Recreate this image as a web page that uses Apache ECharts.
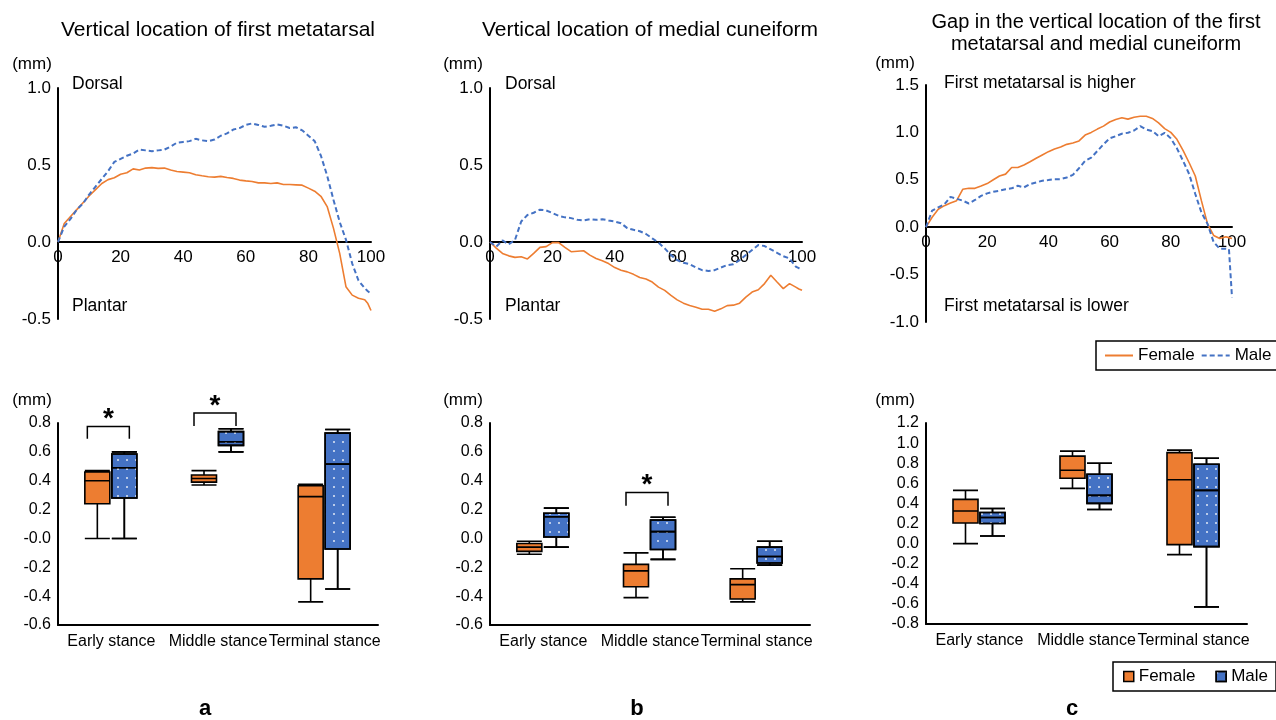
<!DOCTYPE html>
<html>
<head>
<meta charset="utf-8">
<script src="https://cdn.jsdelivr.net/npm/echarts@6.0.0/dist/echarts.min.js"></script>
<style>
  html, body { margin: 0; padding: 0; background: #fff; }
  #main { width: 1276px; height: 720px; }
</style>
</head>
<body>
<div id="main"></div>
<script>
// % of stance phase
var pct = [0, 2, 4, 6, 8, 10, 12, 14, 16, 18, 20, 22, 24, 26, 28, 30, 32, 34, 36, 38, 40,
  42, 44, 46, 48, 50, 52, 54, 56, 58, 60, 62, 64, 66, 68, 70, 72, 74, 76, 78, 80,
  82, 84, 86, 88, 90, 92, 94, 96, 98, 99, 100];

// (a) first metatarsal
var femaleA = [0, 0.12, 0.166, 0.21, 0.255, 0.30, 0.34, 0.38, 0.405, 0.417, 0.44, 0.45, 0.475, 0.467, 0.48, 0.483,
  0.478, 0.48, 0.467, 0.458, 0.454, 0.45, 0.437, 0.43, 0.424, 0.421, 0.426, 0.419, 0.413, 0.402, 0.397,
  0.393, 0.384, 0.384, 0.38, 0.384, 0.373, 0.373, 0.371, 0.369, 0.35, 0.33, 0.297, 0.23, 0.09, -0.074,
  -0.29, -0.345, -0.365, -0.375, -0.40, -0.445];
var maleA = [0, 0.10, 0.15, 0.21, 0.25, 0.31, 0.36, 0.41, 0.46, 0.52, 0.54, 0.56, 0.575, 0.60, 0.595, 0.59,
  0.595, 0.60, 0.62, 0.645, 0.65, 0.655, 0.67, 0.66, 0.655, 0.665, 0.69, 0.705, 0.73, 0.74, 0.76,
  0.77, 0.76, 0.748, 0.755, 0.764, 0.755, 0.74, 0.745, 0.725, 0.69, 0.655, 0.56, 0.43, 0.275, 0.13,
  0.015, -0.14, -0.25, -0.30, -0.32, -0.335];

// (b) medial cuneiform
var femaleB = [0, -0.04, -0.074, -0.09, -0.10, -0.096, -0.11, -0.074, -0.035, -0.03, -0.004, -0.004, -0.035, -0.063,
  -0.06, -0.057, -0.085, -0.107, -0.122, -0.14, -0.166, -0.183, -0.194, -0.21, -0.231, -0.24, -0.26,
  -0.293, -0.314, -0.347, -0.376, -0.397, -0.413, -0.424, -0.437, -0.437, -0.45, -0.434, -0.413, -0.41,
  -0.397, -0.358, -0.325, -0.31, -0.27, -0.216, -0.26, -0.303, -0.27, -0.293, -0.305, -0.314];
var maleB = [0, -0.03, 0.01, -0.015, 0.013, 0.133, 0.175, 0.19, 0.21, 0.205, 0.188, 0.17, 0.16, 0.155, 0.144,
  0.14, 0.148, 0.144, 0.148, 0.14, 0.133, 0.122, 0.09, 0.079, 0.07, 0.052, 0.024, -0.004, -0.041,
  -0.085, -0.118, -0.135, -0.144, -0.166, -0.183, -0.188, -0.183, -0.166, -0.15, -0.144, -0.118,
  -0.085, -0.052, -0.02, -0.026, -0.048, -0.07, -0.092, -0.107, -0.16, -0.17, -0.18];

// (c) gap
var femaleC = [0, 0.105, 0.19, 0.227, 0.255, 0.28, 0.40, 0.41, 0.41, 0.434, 0.46, 0.50, 0.54, 0.56, 0.63, 0.63,
  0.657, 0.69, 0.727, 0.762, 0.797, 0.825, 0.846, 0.874, 0.888, 0.91, 0.972, 1.0, 1.035, 1.066, 1.11,
  1.136, 1.154, 1.14, 1.16, 1.17, 1.17, 1.147, 1.10, 1.04, 1.0, 0.927, 0.81, 0.68, 0.54, 0.28, 0.035,
  -0.087, -0.12, -0.10, -0.11, -0.12];
var maleC = [0, 0.175, 0.21, 0.24, 0.32, 0.30, 0.28, 0.25, 0.287, 0.33, 0.357, 0.374, 0.385, 0.40, 0.41, 0.437,
  0.42, 0.455, 0.472, 0.49, 0.497, 0.507, 0.507, 0.524, 0.552, 0.622, 0.70, 0.734, 0.804, 0.874, 0.937,
  0.96, 0.986, 0.996, 1.02, 1.066, 1.03, 1.014, 0.96, 0.996, 0.937, 0.832, 0.70, 0.56, 0.35, 0.157,
  0.035, -0.157, -0.227, -0.227, -0.23, -0.74];

// boxplots: [min, Q1, median, Q3, max]
var stages = ['Early stance', 'Middle stance', 'Terminal stance'];
var boxFemaleA = [[0.0, 0.24, 0.40, 0.46, 0.47], [0.37, 0.39, 0.415, 0.44, 0.47], [-0.44, -0.28, 0.29, 0.365, 0.375]];
var boxMaleA = [[0.0, 0.28, 0.49, 0.585, 0.60], [0.60, 0.645, 0.67, 0.74, 0.76], [-0.35, -0.073, 0.515, 0.73, 0.755]];
var boxFemaleB = [[-0.11, -0.09, -0.06, -0.035, -0.02], [-0.41, -0.335, -0.225, -0.18, -0.10], [-0.44, -0.42, -0.32, -0.28, -0.21]];
var boxMaleB = [[-0.06, 0.01, 0.15, 0.175, 0.21], [-0.145, -0.077, 0.047, 0.128, 0.147], [-0.185, -0.17, -0.125, -0.06, -0.02]];
var boxFemaleC = [[0.0, 0.205, 0.325, 0.44, 0.53], [0.55, 0.65, 0.73, 0.87, 0.92], [-0.11, -0.01, 0.635, 0.905, 0.93]];
var boxMaleC = [[0.075, 0.2, 0.26, 0.31, 0.35], [0.34, 0.40, 0.48, 0.69, 0.80], [-0.63, -0.03, 0.53, 0.79, 0.85]];

// significance brackets: [stage index, leg bottom, bracket top]
var sigA = [[0, 0.69, 0.775], [1, 0.78, 0.87]];
var sigB = [[1, 0.226, 0.318]];

// tick labels
var lineTicksAB = [-0.5, 0, 0.5, 1.0];
var lineLabelsAB = ['-0.5', '0.0', '0.5', '1.0'];
var lineTicksC = [-1.0, -0.5, 0, 0.5, 1.0, 1.5];
var lineLabelsC = ['-1.0', '-0.5', '0.0', '0.5', '1.0', '1.5'];
var boxTicksAB = [-0.6, -0.4, -0.2, 0, 0.2, 0.4, 0.6, 0.8];
var boxLabelsA = ['-0.6', '-0.4', '-0.2', '-0.0', '0.2', '0.4', '0.6', '0.8'];
var boxLabelsB = ['-0.6', '-0.4', '-0.2', '0.0', '0.2', '0.4', '0.6', '0.8'];
var boxTicksC = [-0.8, -0.6, -0.4, -0.2, 0, 0.2, 0.4, 0.6, 0.8, 1.0, 1.2];
var boxLabelsC = ['-0.8', '-0.6', '-0.4', '-0.2', '0.0', '0.2', '0.4', '0.6', '0.8', '1.0', '1.2'];

var ORANGE = '#ED7D31';
var BLUE = '#4472C4';
var FONT = '"Liberation Sans", Arial, sans-serif';
var BOX_SHIFT_F = -14;
var BOX_SHIFT_M = 13;

function tickFmt(ticks, labels) {
  return function (v) {
    for (var i = 0; i < ticks.length; i++) {
      if (Math.abs(ticks[i] - v) < 1e-6) return labels[i];
    }
    return '';
  };
}
function pairs(vals) {
  return pct.map(function (x, i) { return [x, vals[i]]; });
}

var lineGrids = [
  { left: 58, top: 88, width: 313, height: 231 },
  { left: 490, top: 88, width: 312, height: 231 },
  { left: 926, top: 85, width: 306, height: 237 }
];
var lineY = [
  { min: -0.5, max: 1.0, interval: 0.5, ticks: lineTicksAB, labels: lineLabelsAB },
  { min: -0.5, max: 1.0, interval: 0.5, ticks: lineTicksAB, labels: lineLabelsAB },
  { min: -1.0, max: 1.5, interval: 0.5, ticks: lineTicksC, labels: lineLabelsC }
];
var boxGrids = [
  { left: 58, top: 423, width: 320, height: 202 },
  { left: 490, top: 423, width: 320, height: 202 },
  { left: 926, top: 423, width: 321, height: 201 }
];
var boxY = [
  { min: -0.6, max: 0.8, interval: 0.2, ticks: boxTicksAB, labels: boxLabelsA },
  { min: -0.6, max: 0.8, interval: 0.2, ticks: boxTicksAB, labels: boxLabelsB },
  { min: -0.8, max: 1.2, interval: 0.2, ticks: boxTicksC, labels: boxLabelsC }
];

var grid = [], xAxis = [], yAxis = [], series = [];

// top line charts: grids 0..2; x axis sits on the zero line
lineGrids.forEach(function (g, i) {
  grid.push(g);
  var y = lineY[i];
  var zeroUp = g.height * (0 - y.min) / (y.max - y.min);
  xAxis.push({
    gridIndex: i, type: 'value', min: 0, max: 100, interval: 20,
    offset: -zeroUp,
    axisLine: { show: true, onZero: false, lineStyle: { color: '#000', width: 2 } },
    axisTick: { show: false }, splitLine: { show: false },
    axisLabel: { color: '#000', fontSize: 17, margin: 7, fontFamily: FONT }
  });
  yAxis.push({
    gridIndex: i, type: 'value', min: y.min, max: y.max, interval: y.interval,
    axisLine: { show: true, onZero: false, lineStyle: { color: '#000', width: 2 } },
    axisTick: { show: false }, splitLine: { show: false },
    axisLabel: { color: '#000', fontSize: 17, margin: 7, fontFamily: FONT, formatter: tickFmt(y.ticks, y.labels) }
  });
});

// bottom visible axes: grids 3..5
boxGrids.forEach(function (g, i) {
  grid.push(g);
  xAxis.push({
    gridIndex: 3 + i, type: 'category', data: stages,
    axisLine: { show: true, onZero: false, lineStyle: { color: '#000', width: 2 } },
    axisTick: { show: false },
    axisLabel: { color: '#000', fontSize: 16, margin: 9, interval: 0, fontFamily: FONT }
  });
  yAxis.push({
    gridIndex: 3 + i, type: 'value', min: boxY[i].min, max: boxY[i].max, interval: boxY[i].interval,
    axisLine: { show: true, onZero: false, lineStyle: { color: '#000', width: 2 } },
    axisTick: { show: false }, splitLine: { show: false },
    axisLabel: { color: '#000', fontSize: 16, margin: 7, fontFamily: FONT, formatter: tickFmt(boxY[i].ticks, boxY[i].labels) }
  });
});

// hidden shifted grids for female (6..8) and male (9..11) boxes
[BOX_SHIFT_F, BOX_SHIFT_M].forEach(function (shift) {
  boxGrids.forEach(function (g, i) {
    var gi = grid.length;
    grid.push({ left: g.left + shift, top: g.top, width: g.width, height: g.height });
    xAxis.push({ gridIndex: gi, type: 'category', data: stages, show: false });
    yAxis.push({ gridIndex: gi, type: 'value', min: boxY[i].min, max: boxY[i].max, show: false });
  });
});

// line series
[[femaleA, maleA], [femaleB, maleB], [femaleC, maleC]].forEach(function (pair, i) {
  series.push({
    name: 'Female', type: 'line', xAxisIndex: i, yAxisIndex: i, data: pairs(pair[0]),
    symbol: 'none', itemStyle: { color: ORANGE },
    lineStyle: { color: ORANGE, width: 1.6 }
  });
  series.push({
    name: 'Male', type: 'line', xAxisIndex: i, yAxisIndex: i, data: pairs(pair[1]),
    symbol: 'none', itemStyle: { color: BLUE },
    lineStyle: { color: BLUE, width: 2, type: [5, 3] }
  });
});

var dots = {
  symbol: 'circle', symbolSize: 1, color: 'rgba(255,255,255,0.85)',
  dashArrayX: [2, 7], dashArrayY: [2, 7], rotation: 0
};

// boxplot series
[[boxFemaleA, boxMaleA], [boxFemaleB, boxMaleB], [boxFemaleC, boxMaleC]].forEach(function (pair, i) {
  series.push({
    name: 'Female box', type: 'boxplot', xAxisIndex: 6 + i, yAxisIndex: 6 + i, data: pair[0],
    boxWidth: [25, 25],
    itemStyle: { color: ORANGE, borderColor: '#000', borderWidth: 1.6 }
  });
  series.push({
    name: 'Male box', type: 'boxplot', xAxisIndex: 9 + i, yAxisIndex: 9 + i, data: pair[1],
    boxWidth: [25, 25],
    itemStyle: { color: BLUE, borderColor: '#000', borderWidth: 1.6, decal: dots }
  });
});

function renderBracket(params, api) {
  var top = api.coord([api.value(0), api.value(2)]);
  var leg = api.coord([api.value(0), api.value(1)]);
  var x0 = top[0] - 24, x1 = top[0] + 18;
  return {
    type: 'group',
    children: [
      {
        type: 'polyline',
        shape: { points: [[x0, leg[1]], [x0, top[1]], [x1, top[1]], [x1, leg[1]]] },
        style: { stroke: '#000', lineWidth: 1.5, fill: null }
      },
      {
        type: 'text', x: (x0 + x1) / 2, y: top[1] - 7,
        style: { text: '*', font: 'bold 28px ' + FONT, textAlign: 'center', textVerticalAlign: 'middle', fill: '#000' }
      }
    ]
  };
}
series.push({ type: 'custom', xAxisIndex: 3, yAxisIndex: 3, data: sigA, renderItem: renderBracket, clip: false, silent: true });
series.push({ type: 'custom', xAxisIndex: 4, yAxisIndex: 4, data: sigB, renderItem: renderBracket, clip: false, silent: true });

function txt(text, x, y, size, opts) {
  opts = opts || {};
  return {
    type: 'text', x: x, y: y, silent: true,
    style: {
      text: text, fill: '#000',
      font: (opts.bold ? 'bold ' : '') + size + 'px ' + FONT,
      textAlign: opts.align || 'left', textVerticalAlign: 'middle',
      lineHeight: opts.lineHeight
    }
  };
}

var graphic = [
  txt('Vertical location of first metatarsal', 218, 30, 21, { align: 'center' }),
  txt('Vertical location of medial cuneiform', 650, 30, 21, { align: 'center' }),
  txt('Gap in the vertical location of the first\nmetatarsal and medial cuneiform', 1096, 33, 20, { align: 'center', lineHeight: 22 }),
  txt('(mm)', 32, 64, 17, { align: 'center' }),
  txt('(mm)', 463, 64, 17, { align: 'center' }),
  txt('(mm)', 895, 63, 17, { align: 'center' }),
  txt('(mm)', 32, 400, 17, { align: 'center' }),
  txt('(mm)', 463, 400, 17, { align: 'center' }),
  txt('(mm)', 895, 400, 17, { align: 'center' }),
  txt('Dorsal', 72, 84, 17.5),
  txt('Plantar', 72, 306, 17.5),
  txt('Dorsal', 505, 84, 17.5),
  txt('Plantar', 505, 306, 17.5),
  txt('First metatarsal is higher', 944, 83, 17.5),
  txt('First metatarsal is lower', 944, 306, 17.5),
  txt('a', 205, 709, 22, { align: 'center', bold: true }),
  txt('b', 637, 709, 22, { align: 'center', bold: true }),
  txt('c', 1072, 709, 22, { align: 'center', bold: true })
];

var option = {
  animation: false,
  backgroundColor: '#fff',
  textStyle: { fontFamily: FONT, color: '#000' },
  grid: grid,
  xAxis: xAxis,
  yAxis: yAxis,
  legend: [
    {
      data: ['Female', 'Male'], left: 1096, top: 341, width: 260,
      orient: 'horizontal', itemWidth: 28, itemHeight: 12, itemGap: 6,
      padding: [6, 8, 6, 8], borderColor: '#000', borderWidth: 1.5,
      itemStyle: { opacity: 0, color: 'rgba(0,0,0,0)', borderWidth: 0 },
      textStyle: { fontSize: 17, color: '#000', fontFamily: FONT }
    },
    {
      data: [
        { name: 'Female box', itemStyle: { color: ORANGE, borderColor: '#000', borderWidth: 1.5 } },
        { name: 'Male box', itemStyle: { color: BLUE, borderColor: '#000', borderWidth: 1.5 } }
      ],
      left: 1113, top: 662, width: 260,
      orient: 'horizontal', icon: 'rect', itemWidth: 10, itemHeight: 10, itemGap: 20,
      padding: [6, 8, 6, 10], borderColor: '#000', borderWidth: 1.5,
      formatter: function (n) { return n.replace(' box', ''); },
      textStyle: { fontSize: 17, color: '#000', fontFamily: FONT }
    }
  ],
  graphic: graphic,
  series: series
};

var chart = echarts.init(document.getElementById('main'));
chart.setOption(option);
</script>
</body>
</html>
